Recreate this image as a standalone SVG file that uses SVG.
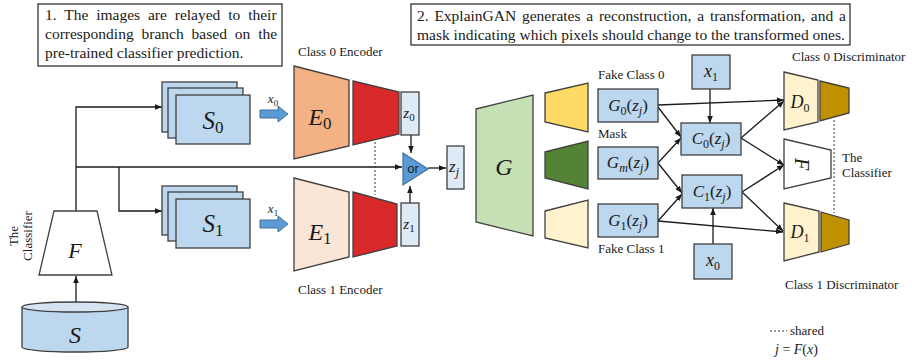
<svg xmlns="http://www.w3.org/2000/svg" width="912" height="362" viewBox="0 0 912 362">
<style>
.t{font-family:"Liberation Serif",serif;fill:#1a1a1a}
.m{font-family:"Liberation Serif",serif;font-style:italic;fill:#1a1a1a}
.s{stroke:#404040;stroke-width:1.3}
.lb{fill:#BDD7EE}
.ll{fill:#DEEBF7}
.ln{fill:none;stroke:#1a1a1a;stroke-width:1.3}
.dl{fill:none;stroke:#333;stroke-width:1;stroke-dasharray:2,2}
.u{font-style:normal}
</style>
<defs>
<marker id="ah" viewBox="0 0 10 10" refX="10" refY="5" markerWidth="7" markerHeight="7" orient="auto" markerUnits="userSpaceOnUse"><path d="M0,1 L10,5 L0,9 z" fill="#1a1a1a"/></marker>
</defs>
<rect width="912" height="362" fill="#fff"/>

<g id="note1">
<rect x="38" y="4" width="244" height="62" fill="#fff" stroke="#222" stroke-width="1.2"/>
<text class="t" font-size="15.5" x="45" y="20" word-spacing="4">1. The images are relayed to their</text>
<text class="t" font-size="15.5" x="45" y="39" word-spacing="4">corresponding branch based on the</text>
<text class="t" font-size="15.5" x="45" y="58">pre-trained classifier prediction.</text>
</g>
<g id="note2">
<rect x="411" y="4" width="439" height="41" fill="#fff" stroke="#222" stroke-width="1.2"/>
<text class="t" font-size="15.5" x="417" y="21" word-spacing="1.9">2. ExplainGAN generates a reconstruction, a transformation, and a</text>
<text class="t" font-size="15.5" x="417" y="40">mask indicating which pixels should change to the transformed ones.</text>
</g>

<g id="connectors">
<path class="ln" d="M76,302 V276" marker-end="url(#ah)"/>
<path class="ln" d="M76,211 V107 H162" marker-end="url(#ah)"/>
<path class="ln" d="M76,167 H402" marker-end="url(#ah)"/>
<path class="ln" d="M119,167 V211 H162" marker-end="url(#ah)"/>
<path class="ln" d="M411,135 V153" marker-end="url(#ah)"/>
<path class="ln" d="M410,203 V186" marker-end="url(#ah)"/>
<path class="ln" d="M428,168 H446" marker-end="url(#ah)"/>
<path class="dl" d="M375,142 V195"/>
<path class="ln" d="M658,105 L784,100" marker-end="url(#ah)"/>
<path class="ln" d="M658,107 L681,137" marker-end="url(#ah)"/>
<path class="ln" d="M658,163 L681,138" marker-end="url(#ah)"/>
<path class="ln" d="M658,163 L682,193" marker-end="url(#ah)"/>
<path class="ln" d="M658,221 L682,194" marker-end="url(#ah)"/>
<path class="ln" d="M658,221 L783,232" marker-end="url(#ah)"/>
<path class="ln" d="M710,89 V123" marker-end="url(#ah)"/>
<path class="ln" d="M713,244 V208" marker-end="url(#ah)"/>
<path class="ln" d="M741,138 L784,101" marker-end="url(#ah)"/>
<path class="ln" d="M741,138 L784,165" marker-end="url(#ah)"/>
<path class="ln" d="M742,192 L784,165" marker-end="url(#ah)"/>
<path class="ln" d="M742,192 L783,231" marker-end="url(#ah)"/>
<path class="dl" d="M834,120 V213"/>
</g>

<g id="dataset-S">
<path class="s" d="M22,307 V347 A53,5 0 0 0 128,347 V307" fill="#BDD7EE"/>
<ellipse class="s" cx="75" cy="307" rx="53" ry="5" fill="#D6E4F2"/>
<text class="m" font-size="24" x="75" y="343" text-anchor="middle">S</text>
</g>

<g id="classifier-F">
<polygon class="s" points="54,211 97,211 112,275 39,275" fill="#fff"/>
<text class="m" font-size="22" x="75" y="258" text-anchor="middle">F</text>
<text class="t" font-size="13" transform="translate(18,236) rotate(-90)" text-anchor="middle">The</text>
<text class="t" font-size="13" transform="translate(32,236) rotate(-90)" text-anchor="middle">Classifier</text>
</g>

<g id="stack-S0">
<rect class="s lb" x="162" y="82" width="75" height="50"/>
<rect class="s lb" x="168" y="88" width="75" height="50"/>
<rect class="s lb" x="176" y="95" width="74" height="49"/>
<text class="m" font-size="25" x="213" y="129" text-anchor="middle">S<tspan class="u" font-size="17" dy="4">0</tspan></text>
</g>
<g id="stack-S1">
<rect class="s lb" x="162" y="186" width="75" height="49"/>
<rect class="s lb" x="168" y="192" width="75" height="49"/>
<rect class="s lb" x="176" y="199" width="74" height="49"/>
<text class="m" font-size="25" x="213" y="232" text-anchor="middle">S<tspan class="u" font-size="17" dy="4">1</tspan></text>
</g>

<g id="arrow-x0">
<polygon points="260,110 278,110 278,106 288,114 278,122 278,118 260,118" fill="#5B9BD5" stroke="#41719C" stroke-width="1"/>
<text class="m" font-size="13" x="273" y="103" text-anchor="middle">x<tspan class="u" font-size="9" dy="3">0</tspan></text>
</g>
<g id="arrow-x1">
<polygon points="260,220 278,220 278,216 288,224 278,232 278,228 260,228" fill="#5B9BD5" stroke="#41719C" stroke-width="1"/>
<text class="m" font-size="13" x="273" y="213" text-anchor="middle">x<tspan class="u" font-size="9" dy="3">1</tspan></text>
</g>

<g id="encoder-E0">
<text class="t" font-size="13" x="298" y="56">Class 0 Encoder</text>
<polygon class="s" points="294,66 349,80 349,146 294,159" fill="#F4B183"/>
<polygon class="s" points="353,81 399,92 399,134 353,145" fill="#D9282A"/>
<text class="m" font-size="24" x="320" y="125" text-anchor="middle">E<tspan class="u" font-size="17" dy="4">0</tspan></text>
</g>
<g id="encoder-E1">
<polygon class="s" points="294,178 349,192 349,257 294,271" fill="#FBE5D6"/>
<polygon class="s" points="353,192 397,204 397,246 353,257" fill="#D9282A"/>
<text class="m" font-size="24" x="320" y="240" text-anchor="middle">E<tspan class="u" font-size="17" dy="4">1</tspan></text>
<text class="t" font-size="13" x="298" y="294">Class 1 Encoder</text>
</g>

<g id="z0">
<rect class="s ll" x="401" y="92" width="18" height="43"/>
<text class="m" font-size="15" x="409" y="118" text-anchor="middle">z<tspan class="u" font-size="11" dy="3">0</tspan></text>
</g>
<g id="z1">
<rect class="s ll" x="401" y="203" width="18" height="43"/>
<text class="m" font-size="15" x="409" y="229" text-anchor="middle">z<tspan class="u" font-size="11" dy="3">1</tspan></text>
</g>
<g id="or-gate">
<polygon points="403,153 428,169 403,185" fill="#5B9BD5" stroke="#41719C" stroke-width="1.2"/>
<text font-family="Liberation Sans,sans-serif" font-size="13" x="413" y="173" text-anchor="middle" fill="#1a1a1a">or</text>
</g>
<g id="zj">
<rect class="s ll" x="447" y="146" width="17" height="43"/>
<text class="m" font-size="17" x="454" y="172" text-anchor="middle">z<tspan font-size="12" dy="4">j</tspan></text>
</g>

<g id="generator-G">
<polygon class="s" points="476,109 533,95 533,236 476,222" fill="#C5E0B4"/>
<text class="m" font-size="24" x="504" y="175" text-anchor="middle">G</text>
</g>
<g id="head-0">
<polygon class="s" points="545,93 588,83 588,132 545,122" fill="#FFD966"/>
</g>
<g id="head-m">
<polygon class="s" points="545,152 588,141 588,189 545,178" fill="#548235"/>
</g>
<g id="head-1">
<polygon class="s" points="545,211 588,200 588,248 545,238" fill="#FFF2CC"/>
</g>

<g id="G0">
<text class="t" font-size="13" x="598" y="79">Fake Class 0</text>
<rect class="s lb" x="598" y="89" width="60" height="33"/>
<text class="m" font-size="17" x="628" y="111" text-anchor="middle">G<tspan class="u" font-size="12" dy="4">0</tspan><tspan class="u" dy="-4">(</tspan>z<tspan font-size="12" dy="4">j</tspan><tspan class="u" dy="-4">)</tspan></text>
</g>
<g id="Gm">
<text class="t" font-size="13" x="598" y="138">Mask</text>
<rect class="s lb" x="598" y="147" width="60" height="32"/>
<text class="m" font-size="17" x="628" y="168" text-anchor="middle">G<tspan font-size="12" dy="4">m</tspan><tspan class="u" dy="-4">(</tspan>z<tspan font-size="12" dy="4">j</tspan><tspan class="u" dy="-4">)</tspan></text>
</g>
<g id="G1">
<rect class="s lb" x="598" y="204" width="60" height="33"/>
<text class="m" font-size="17" x="628" y="226" text-anchor="middle">G<tspan class="u" font-size="12" dy="4">1</tspan><tspan class="u" dy="-4">(</tspan>z<tspan font-size="12" dy="4">j</tspan><tspan class="u" dy="-4">)</tspan></text>
<text class="t" font-size="13" x="598" y="253">Fake Class 1</text>
</g>

<g id="x1-box">
<rect class="s lb" x="692" y="55" width="38" height="34"/>
<text class="m" font-size="18" x="711" y="77" text-anchor="middle">x<tspan class="u" font-size="12" dy="4">1</tspan></text>
</g>
<g id="C0">
<rect class="s lb" x="681" y="123" width="60" height="32"/>
<text class="m" font-size="17" x="711" y="144" text-anchor="middle">C<tspan class="u" font-size="12" dy="4">0</tspan><tspan class="u" dy="-4">(</tspan>z<tspan font-size="12" dy="4">j</tspan><tspan class="u" dy="-4">)</tspan></text>
</g>
<g id="C1">
<rect class="s lb" x="682" y="175" width="60" height="33"/>
<text class="m" font-size="17" x="712" y="197" text-anchor="middle">C<tspan class="u" font-size="12" dy="4">1</tspan><tspan class="u" dy="-4">(</tspan>z<tspan font-size="12" dy="4">j</tspan><tspan class="u" dy="-4">)</tspan></text>
</g>
<g id="x0-box">
<rect class="s lb" x="694" y="244" width="38" height="35"/>
<text class="m" font-size="18" x="713" y="266" text-anchor="middle">x<tspan class="u" font-size="12" dy="4">0</tspan></text>
</g>

<g id="D0">
<text class="t" font-size="13" x="792" y="61">Class 0 Discriminator</text>
<polygon class="s" points="784,72 818,80 818,122 784,130" fill="#FFF2CC"/>
<polygon class="s" points="820,81 849,88 849,113 820,121" fill="#BF9000"/>
<text class="m" font-size="18" x="800" y="108" text-anchor="middle">D<tspan class="u" font-size="12" dy="4">0</tspan></text>
</g>
<g id="classifier-F2">
<polygon class="s" points="784,139 831,150 831,178 784,189" fill="#fff"/>
<text class="m" font-size="20" transform="translate(795,164) rotate(90)" text-anchor="middle">F</text>
<text class="t" font-size="13" x="842" y="162">The</text>
<text class="t" font-size="13" x="842" y="177">Classifier</text>
</g>
<g id="D1">
<polygon class="s" points="784,203 819,211 819,252 784,261" fill="#FFF2CC"/>
<polygon class="s" points="821,212 849,220 849,244 821,252" fill="#BF9000"/>
<text class="m" font-size="18" x="800" y="238" text-anchor="middle">D<tspan class="u" font-size="12" dy="4">1</tspan></text>
<text class="t" font-size="13" x="785" y="289">Class 1 Discriminator</text>
</g>

<g id="legend">
<path class="dl" d="M770,331 H787"/>
<text class="t" font-size="13" x="790" y="335">shared</text>
<text class="m" font-size="14" x="775" y="354">j <tspan class="u">= </tspan>F<tspan class="u">(</tspan>x<tspan class="u">)</tspan></text>
</g>
</svg>
